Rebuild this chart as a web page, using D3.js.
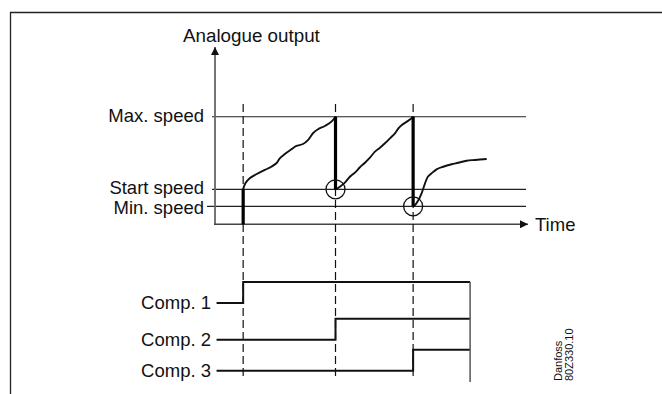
<!DOCTYPE html>
<html>
<head>
<meta charset="utf-8">
<script src="https://cdn.jsdelivr.net/npm/d3@7"></script>
<style>
  html, body { margin: 0; padding: 0; background: #fff; }
  svg { display: block; }
  text { font-family: "Liberation Sans", Arial, sans-serif; fill: #111; }
</style>
</head>
<body>
<svg id="chart" width="662" height="394"></svg>
<script>
// Speed reference levels (0 = axis, 100 = max speed)
const speedLabels = ["Max. speed", "Start speed", "Min. speed"];
const speedValues = [100, 32.5, 16.7];

// Compressor cut-in times (time axis 0..100) and end of the sequence
const compLabels = ["Comp. 1", "Comp. 2", "Comp. 3"];
const compStart = [9.0, 38.5, 63.3];
const compEnd = 81.5;
const compLineStart = 0.5;

// Analogue output ramps after each cut-in: [time, speed]
const ramp1 = [[9.0,32.5],[9.7,38.1],[11.1,42.8],[13.2,46.5],[15.9,50.5],[18.0,53.5],[19.6,56.7],[20.7,61.3],[22.3,65.3],[24.4,69.7],[26.0,72.8],[28.1,74.6],[29.7,78.3],[31.3,84.6],[32.9,88.3],[35.1,91.4],[37.2,95.4],[38.5,100]];
const ramp2 = [[38.5,32.5],[39.9,34.9],[41.5,38.7],[43.1,44.2],[44.7,48.0],[46.3,53.0],[47.9,57.2],[49.5,61.9],[51.1,67.5],[52.7,71.2],[54.3,75.3],[55.9,79.9],[57.5,84.6],[58.6,89.2],[59.7,92.3],[61.3,95.4],[62.8,98.5],[63.3,100]];
const ramp3 = [[63.3,16.7],[63.9,17.9],[65.0,22.6],[66.0,28.8],[67.1,38.1],[68.0,44.2],[69.2,47.4],[70.8,51.1],[72.9,53.5],[75.6,55.8],[77.7,57.2],[80.4,59.1],[83.1,59.8],[86.8,60.7]];

// Drops at each cut-in: [time, from speed, to speed]
const drops = [[9.0, 0, 32.5], [38.5, 100, 32.5], [63.3, 100, 16.7]];
// Points where the output falls back (circled)
const circled = [[38.5, 32.5], [63.3, 16.7]];

const svg = d3.select("#chart");
const x = d3.scaleLinear().domain([0, 100]).range([215, 528]);
const y = d3.scaleLinear().domain([0, 100]).range([224.3, 116.7]);
const yComp = d3.scaleLinear().domain([0, 1, 2]).range([303, 339.7, 370.7]);
const stepH = 21;

// Frame
svg.append("path").attr("d", "M10.5,394 V12.5 H662")
  .attr("fill", "none").attr("stroke", "#222").attr("stroke-width", 1.3);

// Arrow markers
const defs = svg.append("defs");
defs.append("marker").attr("id", "arrowUp").attr("viewBox", "0 0 10 10")
  .attr("refX", 10).attr("refY", 5).attr("markerUnits", "userSpaceOnUse")
  .attr("markerWidth", 14).attr("markerHeight", 8).attr("orient", "auto")
  .append("path").attr("d", "M0,0 L10,5 L0,10 Z").attr("fill", "#111");
defs.append("marker").attr("id", "arrowRight").attr("viewBox", "0 0 10 10")
  .attr("refX", 10).attr("refY", 5).attr("markerUnits", "userSpaceOnUse")
  .attr("markerWidth", 12).attr("markerHeight", 8).attr("orient", "auto")
  .append("path").attr("d", "M0,0 L10,5 L0,10 Z").attr("fill", "#111");

// Speed reference lines with labels
const labelShift = [5.2, 4.6, 7.2];
speedValues.forEach((v, i) => {
  const x0 = i === 2 ? 207 : 212;
  svg.append("line").attr("x1", x0).attr("x2", 526)
    .attr("y1", y(v)).attr("y2", y(v))
    .attr("stroke", "#222").attr("stroke-width", 1.1);
  svg.append("text").attr("x", 204).attr("y", y(v) + labelShift[i])
    .attr("text-anchor", "end").attr("font-size", 18.5).text(speedLabels[i]);
});

// Axes
svg.append("line").attr("x1", x(0)).attr("x2", x(0))
  .attr("y1", y(0) + 0.8).attr("y2", 47)
  .attr("stroke", "#666").attr("stroke-width", 1.8)
  .attr("marker-end", "url(#arrowUp)");
svg.append("line").attr("x1", x(0) - 0.9).attr("x2", x(100))
  .attr("y1", y(0)).attr("y2", y(0))
  .attr("stroke", "#444").attr("stroke-width", 1.6)
  .attr("marker-end", "url(#arrowRight)");
svg.append("text").attr("x", 183).attr("y", 42).attr("font-size", 18.8).text("Analogue output");
svg.append("text").attr("x", 535).attr("y", 231).attr("font-size", 18.5).text("Time");

// Dashed cut-in markers
svg.selectAll("line.cut").data(compStart).join("line").attr("class", "cut")
  .attr("x1", d => x(d)).attr("x2", d => x(d))
  .attr("y1", 104).attr("y2", 379)
  .attr("stroke", "#111").attr("stroke-width", 1.2)
  .attr("stroke-dasharray", "8,4");

// Output ramps
const line = d3.line().x(d => x(d[0])).y(d => y(d[1])).curve(d3.curveCatmullRom);
[ramp1, ramp2, ramp3].forEach(r => {
  svg.append("path").attr("d", line(r)).attr("fill", "none")
    .attr("stroke", "#111").attr("stroke-width", 1.9).attr("stroke-linejoin", "round");
});

// Vertical drops
svg.selectAll("line.drop").data(drops).join("line").attr("class", "drop")
  .attr("x1", d => x(d[0])).attr("x2", d => x(d[0]))
  .attr("y1", d => y(d[1])).attr("y2", d => y(d[2]))
  .attr("stroke", "#000").attr("stroke-width", 3.2);

svg.selectAll("circle.mark").data(circled).join("circle").attr("class", "mark")
  .attr("cx", d => x(d[0])).attr("cy", d => y(d[1])).attr("r", 9.5)
  .attr("fill", "none").attr("stroke", "#111").attr("stroke-width", 1.3);

// Compressor states
compStart.forEach((t, i) => {
  const lo = yComp(i), hi = lo - stepH;
  svg.append("path")
    .attr("d", `M${x(compLineStart)},${lo} H${x(t)} V${hi} H${x(compEnd)}`)
    .attr("fill", "none").attr("stroke", "#111").attr("stroke-width", 2);
  svg.append("text").attr("x", 211).attr("y", lo + 6)
    .attr("text-anchor", "end").attr("font-size", 18.5).text(compLabels[i]);
});
svg.append("line").attr("x1", x(compEnd)).attr("x2", x(compEnd))
  .attr("y1", yComp(0) - stepH).attr("y2", 382)
  .attr("stroke", "#555").attr("stroke-width", 1.5);

// Drawing reference
const ref = svg.append("text").attr("font-size", 11)
  .attr("transform", "translate(561.5,381) rotate(-90)");
ref.append("tspan").attr("x", 0).attr("y", 0).text("Danfoss");
ref.append("tspan").attr("x", 0).attr("y", 11.5).text("80Z330.10");
</script>
</body>
</html>
